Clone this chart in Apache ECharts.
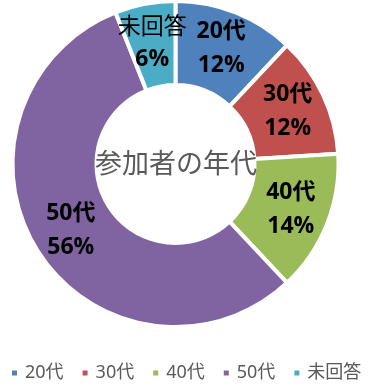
<!DOCTYPE html>
<html>
<head>
<meta charset="utf-8">
<script src="https://cdn.jsdelivr.net/npm/echarts@6/dist/echarts.min.js"></script>
<style>
html,body{margin:0;padding:0;background:#fff;}
#chart{width:385px;height:388px;}
</style>
</head>
<body>
<div id="chart"></div>
<script>
var categories = ['20代', '30代', '40代', '50代', '未回答'];
var values = [12, 12, 14, 56, 6];
var colors = ['#4F81BD', '#C0504D', '#9BBB59', '#8064A2', '#4BACC6'];
var centerTitle = '参加者の年代';

var chart = echarts.init(document.getElementById('chart'));
var data = categories.map(function (c, i) {
  var item = { name: c, value: values[i], itemStyle: { color: colors[i] } };
  if (c === '未回答') {
    item.label = { formatter: '{n|{b}}\n{v|{c}%}' };
  }
  return item;
});
chart.setOption({
  animation: false,
  backgroundColor: '#ffffff',
  graphic: [{
    type: 'text',
    style: {
      text: centerTitle,
      x: 176,
      y: 163,
      align: 'center',
      verticalAlign: 'middle',
      fill: '#595959',
      fontSize: 27,
      fontFamily: '"Noto Sans CJK JP"'
    },
    z: 100
  }],
  legend: {
    data: categories,
    left: 5,
    top: 359,
    width: 385,
    icon: 'rect',
    itemWidth: 7,
    itemHeight: 7,
    itemGap: 17,
    textStyle: {
      color: '#595959',
      fontSize: 18,
      fontFamily: '"Noto Sans", "Noto Sans CJK JP"',
      padding: [0, 0, 0, 2]
    }
  },
  series: [{
    type: 'pie',
    center: [175.5, 164],
    radius: [79, 163],
    startAngle: 90,
    clockwise: true,
    avoidLabelOverlap: false,
    itemStyle: { borderColor: '#ffffff', borderWidth: 4 },
    label: {
      show: true,
      position: 'inside',
      formatter: '{b}\n{c}%',
      color: '#000000',
      fontSize: 23,
      fontWeight: 'bold',
      fontFamily: '"Open Sans", "Noto Sans CJK JP"',
      lineHeight: 34,
      rich: {
        n: { fontSize: 23, fontWeight: 'normal', color: '#000', fontFamily: '"Noto Sans CJK JP"', lineHeight: 34 },
        v: { fontSize: 23, fontWeight: 'bold', color: '#000', fontFamily: '"Open Sans"', lineHeight: 34 }
      }
    },
    labelLine: { show: false },
    emphasis: { disabled: true },
    data: data
  }]
});
</script>
</body>
</html>
